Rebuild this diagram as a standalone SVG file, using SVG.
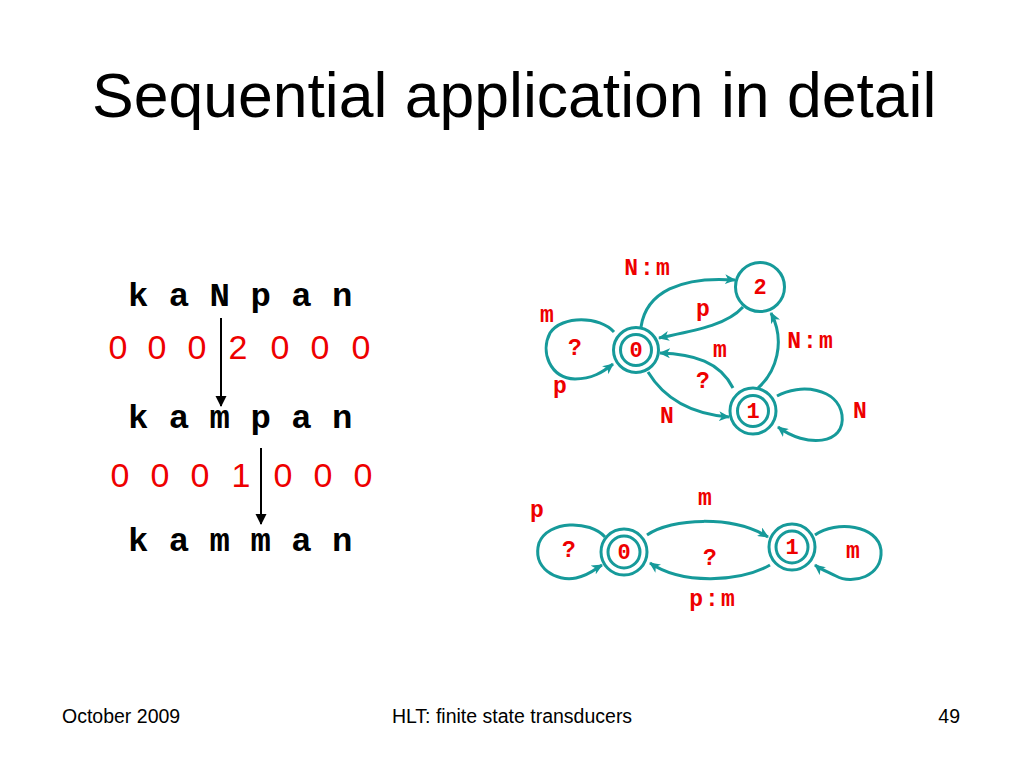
<svg xmlns="http://www.w3.org/2000/svg" width="1024" height="768" viewBox="0 0 1024 768">
<defs>
<style>
.title{font-family:"Liberation Sans",Arial,sans-serif;font-size:62.5px;fill:#000}
.foot{font-family:"Liberation Sans",Arial,sans-serif;font-size:19.5px;fill:#000}
.word{font-family:"Liberation Mono","Courier New",monospace;font-weight:bold;font-size:34px;fill:#000}
.dig{font-family:"Liberation Sans",Arial,sans-serif;font-size:34px;fill:#e00;text-anchor:middle}
.lbl{font-family:"Liberation Mono","Courier New",monospace;font-weight:bold;font-size:23px;fill:#e00;text-anchor:middle}
.wide{letter-spacing:2px}
.st{font-family:"Liberation Mono","Courier New",monospace;font-weight:bold;font-size:22px;fill:#e00;text-anchor:middle}
.edge{fill:none;stroke:#169a9a;stroke-width:3;marker-end:url(#ah)}
.ring{fill:#fff;stroke:#169a9a;stroke-width:3}
.blk{stroke:#000;stroke-width:2;marker-end:url(#bh)}
</style>
<marker id="ah" markerWidth="12" markerHeight="10" refX="10" refY="5" orient="auto" markerUnits="userSpaceOnUse">
<path d="M0,0 L11,5 L0,10 L3,5 z" fill="#169a9a"/>
</marker>
<marker id="bh" markerWidth="11" markerHeight="12" refX="10" refY="5.5" orient="auto" markerUnits="userSpaceOnUse">
<path d="M0,0 L11,5.5 L0,11 z" fill="#000"/>
</marker>
</defs>
<rect width="1024" height="768" fill="#fff"/>
<text class="title" x="92" y="117">Sequential application in detail</text>

<g id="left-text">
<text class="word" x="128" y="306" xml:space="preserve">k a N p a n</text>
<text class="dig" x="118" y="359">0</text><text class="dig" x="157" y="359">0</text><text class="dig" x="197" y="359">0</text><text class="dig" x="238" y="359">2</text><text class="dig" x="280" y="359">0</text><text class="dig" x="320" y="359">0</text><text class="dig" x="361" y="359">0</text>
<text class="word" x="128" y="428" xml:space="preserve">k a m p a n</text>
<text class="dig" x="120" y="487">0</text><text class="dig" x="160" y="487">0</text><text class="dig" x="200" y="487">0</text><text class="dig" x="241" y="487">1</text><text class="dig" x="283" y="487">0</text><text class="dig" x="323" y="487">0</text><text class="dig" x="363" y="487">0</text>
<text class="word" x="128" y="551" xml:space="preserve">k a m m a n</text>
</g>
<g id="left-arrows">
<line class="blk" x1="221" y1="318" x2="221" y2="406"/>
<line class="blk" x1="261" y1="448" x2="261" y2="524"/>
</g>

<g id="connectors-top">
<path class="edge" d="M641,327 C646,292 681,276 735,280"/>
<path class="edge" d="M743,307 C726,326 692,331 659,338"/>
<path class="edge" d="M733,388 C720,362 694,354 660,353"/>
<path class="edge" d="M648,372 C665,400 692,414 729,417"/>
<path class="edge" d="M758,388 C776,372 786,342 771,313"/>
<path class="edge" d="M614,332 C600,316 562,315 550,333 C540,352 550,378 575,379 C592,379 603,372 613,364"/>
<path class="edge" d="M777,396 C800,383 838,388 842,415 C846,445 806,448 778,427"/>
</g>
<g id="state-top-0"><circle class="ring" cx="636" cy="350" r="22.5"/><circle class="ring" cx="636" cy="350" r="15.5"/><text class="st" x="636" y="357">0</text></g>
<g id="state-top-2"><circle class="ring" cx="760" cy="287" r="24.5"/><text class="st" x="760" y="294">2</text></g>
<g id="state-top-1"><circle class="ring" cx="753" cy="411" r="23"/><circle class="ring" cx="753" cy="411" r="15.5"/><text class="st" x="753" y="418">1</text></g>
<g id="labels-top">
<text class="lbl wide" x="648" y="275">N:m</text>
<text class="lbl" x="547" y="322">m</text>
<text class="lbl" x="703" y="316">p</text>
<text class="lbl" x="575" y="355">?</text>
<text class="lbl" x="720" y="357">m</text>
<text class="lbl wide" x="811" y="348">N:m</text>
<text class="lbl" x="703" y="388">?</text>
<text class="lbl" x="560" y="393">p</text>
<text class="lbl" x="667" y="423">N</text>
<text class="lbl" x="860" y="418">N</text>
</g>

<g id="connectors-bottom">
<path class="edge" d="M647,535 C672,518 732,515 768,537"/>
<path class="edge" d="M770,565 C740,582 682,585 650,563"/>
<path class="edge" d="M605,537 C590,520 548,520 539,543 C532,568 556,582 576,578 C590,575 595,569 602,565"/>
<path class="edge" d="M815,535 C836,520 878,525 881,550 C883,577 852,585 836,576 C828,572 820,569 815,565"/>
</g>
<g id="state-bot-0"><circle class="ring" cx="624" cy="552" r="23"/><circle class="ring" cx="624" cy="552" r="16"/><text class="st" x="624" y="559">0</text></g>
<g id="state-bot-1"><circle class="ring" cx="792" cy="547" r="23"/><circle class="ring" cx="792" cy="547" r="16"/><text class="st" x="792" y="554">1</text></g>
<g id="labels-bottom">
<text class="lbl" x="537" y="517">p</text>
<text class="lbl" x="569" y="557">?</text>
<text class="lbl" x="705" y="505">m</text>
<text class="lbl" x="710" y="565">?</text>
<text class="lbl" x="853" y="558">m</text>
<text class="lbl wide" x="713" y="606">p:m</text>
</g>

<text class="foot" x="62" y="723">October 2009</text>
<text class="foot" x="512" y="723" text-anchor="middle">HLT: finite state transducers</text>
<text class="foot" x="960" y="723" text-anchor="end">49</text>
</svg>
